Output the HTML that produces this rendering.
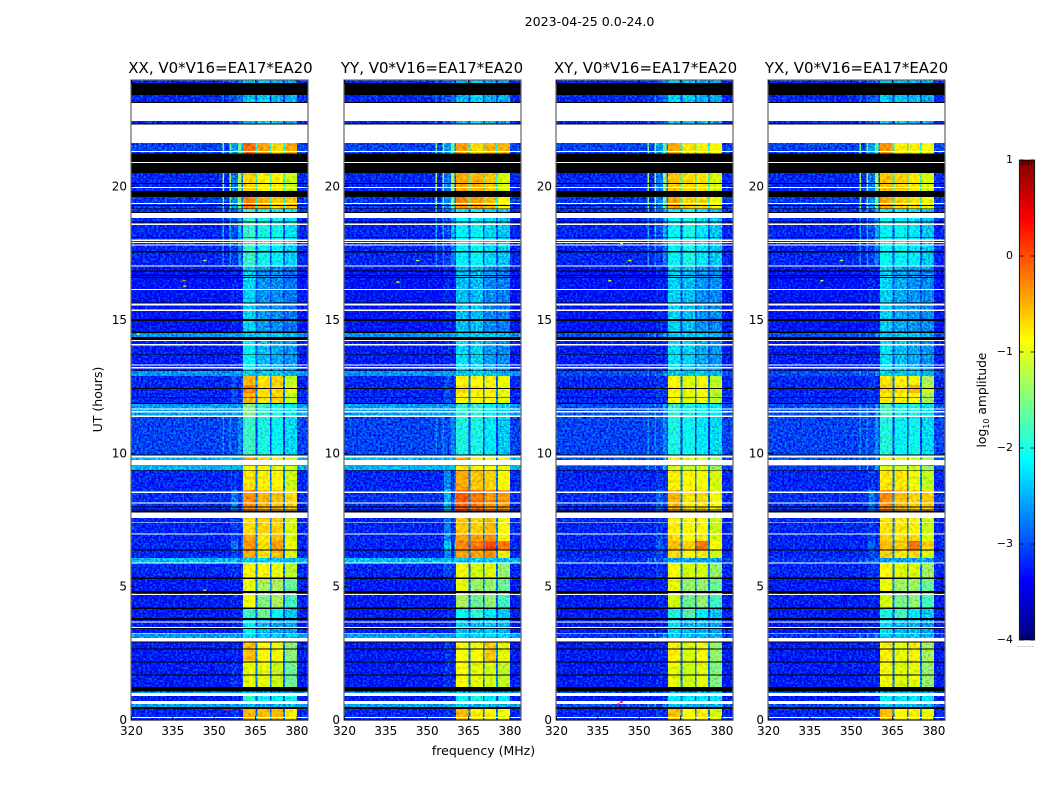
<!DOCTYPE html>
<html lang="en">
<head>
<meta charset="utf-8">
<title>2023-04-25 0.0-24.0</title>
<style>
html,body{margin:0;padding:0;background:#fff;}
svg{display:block;}
text{font-family:"DejaVu Sans","Liberation Sans",sans-serif;fill:#000;}
</style>
</head>
<body>
<svg id="figure" xmlns="http://www.w3.org/2000/svg" width="1050" height="800" viewBox="0 0 1050 800">
  <defs>
    <filter id="grainQuiet0" filterUnits="userSpaceOnUse" x="0" y="0" width="1050" height="800" color-interpolation-filters="sRGB"><feTurbulence type="fractalNoise" baseFrequency="0.46" numOctaves="2" seed="3" result="n"/><feColorMatrix in="n" type="matrix" values="0 0 0 0 0.5  2.6 0 0 0 -0.8  0 2.2 0 0 -0.6  0 0 0 0 1" result="c"/><feComposite in="SourceGraphic" in2="c" operator="arithmetic" k1="0" k2="1" k3="0.5" k4="-0.25" result="m"/><feComposite in="m" in2="SourceAlpha" operator="in"/></filter>
    <filter id="grainBright0" filterUnits="userSpaceOnUse" x="0" y="0" width="1050" height="800" color-interpolation-filters="sRGB"><feTurbulence type="fractalNoise" baseFrequency="0.3" numOctaves="2" seed="11" result="n"/><feColorMatrix in="n" type="matrix" values="1.4 0 0 0 -0.2  1.6 0 0 0 -0.3  0 0 0 0 0  0 0 0 0 1" result="c"/><feComposite in="SourceGraphic" in2="c" operator="arithmetic" k1="0" k2="1" k3="0.3" k4="-0.15" result="m"/><feComposite in="m" in2="SourceAlpha" operator="in"/></filter>
  </defs>
  <text x="589.5" y="26" font-size="12.6" text-anchor="middle">2023-04-25 0.0-24.0</text>
  <g id="panels"></g>
  <text x="483.5" y="755" font-size="12.5" text-anchor="middle">frequency (MHz)</text>
  <text transform="translate(102,399.5) rotate(-90)" font-size="12.5" text-anchor="middle">UT (hours)</text>
  <g id="colorbar"></g>
  <text transform="translate(986,400) rotate(-90)" font-size="12.3" text-anchor="middle">log<tspan font-size="8" dy="3">10</tspan><tspan dy="-3"> amplitude</tspan></text>
</svg>
<script>
// ---- axis data ----
const panelNames = ['XX', 'YY', 'XY', 'YX'];
const baselineLabel = ', V0*V16=EA17*EA20';
const freqTicks = [320, 335, 350, 365, 380];
const hourTicks = [0, 5, 10, 15, 20];
const freqRange = [320, 384];
const hourRange = [0, 24];
const colorRange = [-4, 1];
const colorTicks = [1, 0, -1, -2, -3, -4];
const colorTickLabels = ['1', '0', '\u22121', '\u22122', '\u22123', '\u22124'];

// ---- spectral bands (MHz edges) and what each band holds ----
const freqEdges = [320, 353, 353.6, 355.6, 356, 358.7, 359.9, 360.5, 365, 365.65, 370.2, 370.85, 375, 375.65, 380, 384];
const bandRoles = ['bg', 'line', 'bg', 'line', 'sh', 'line', 'sh', 'b1', 'gap', 'b2', 'gap', 'b3', 'gap', 'b4', 'bg'];

// ---- time rows: [top hour, state]; W flagged white, K blank black, otherwise a zone code ----
const timeRows = [[24,'A'],[23.89,'K'],[23.44,'A'],[23.18,'K'],[23.14,'W'],[22.46,'A'],[22.37,'K'],[22.33,'W'],[21.64,'B'],[21.34,'W'],[21.30,'B'],[21.24,'K'],[20.93,'W'],[20.89,'K'],[20.51,'C'],[20.13,'K'],[20.10,'C'],[19.99,'W'],[19.95,'C'],[19.84,'K'],[19.61,'D'],[19.39,'W'],[19.35,'D'],[19.31,'K'],[19.28,'D'],[19.18,'K'],[19.16,'E'],[19.05,'K'],[19.02,'W'],[18.83,'E'],[18.69,'K'],[18.66,'E'],[18.61,'W'],[18.57,'E'],[18.12,'K'],[18.09,'E'],[18.01,'W'],[17.96,'E'],[17.93,'W'],[17.89,'E'],[17.83,'W'],[17.79,'F'],[17.58,'K'],[17.54,'F'],[17.05,'W'],[17.00,'G'],[16.85,'K'],[16.81,'G'],[16.69,'K'],[16.65,'G'],[16.61,'K'],[16.58,'G'],[16.17,'W'],[16.13,'G'],[15.65,'K'],[15.61,'W'],[15.55,'G'],[15.39,'W'],[15.34,'G'],[15.03,'K'],[14.97,'G'],[14.56,'K'],[14.52,'I'],[14.36,'K'],[14.25,'W'],[14.21,'H'],[14.10,'W'],[14.05,'H'],[13.71,'K'],[13.68,'H'],[13.34,'W'],[13.29,'H'],[13.24,'W'],[13.19,'H'],[13.11,'K'],[13.08,'I'],[12.90,'J'],[12.56,'J2'],[12.45,'K'],[12.41,'J2'],[12.26,'J'],[12.12,'K'],[12.09,'J'],[11.89,'K'],[11.85,'K2'],[11.69,'W'],[11.65,'K2'],[11.58,'W'],[11.54,'K2'],[11.41,'W'],[11.37,'L'],[9.96,'K'],[9.91,'W'],[9.84,'M'],[9.75,'W'],[9.55,'K'],[9.53,'N'],[9.38,'K'],[9.35,'O'],[8.63,'P'],[8.56,'W'],[8.52,'P'],[8.15,'W'],[8.11,'P'],[8.00,'K'],[7.96,'P'],[7.90,'K'],[7.86,'P'],[7.83,'K'],[7.79,'W'],[7.58,'Q'],[7.41,'W'],[7.38,'Q'],[7.00,'W'],[6.96,'R'],[6.71,'R2'],[6.40,'K'],[6.36,'R'],[6.08,'S'],[5.90,'W'],[5.86,'T'],[5.34,'K'],[5.28,'U'],[4.83,'K'],[4.77,'U'],[4.73,'W'],[4.69,'V'],[4.21,'K'],[4.17,'W2'],[3.83,'K'],[3.75,'X'],[3.69,'W'],[3.65,'X'],[3.49,'W'],[3.45,'K'],[3.41,'X'],[3.27,'W'],[3.24,'Y'],[3.08,'W'],[2.94,'K'],[2.91,'Z'],[2.69,'K'],[2.65,'Z'],[2.20,'K'],[2.16,'AA'],[1.71,'K'],[1.67,'AA'],[1.24,'K'],[1.06,'AC'],[1.02,'W'],[0.90,'AB'],[0.71,'W'],[0.60,'AC'],[0.48,'K'],[0.42,'AD'],[0.11,'W'],[0.08,'AD']];

// ---- zone levels, log10 amplitude ----
const zoneCodes = ['A','B','C','D','E','F','G','H','I','J','J2','K2','L','M','N','O','P','Q','R','R2','S','T','U','V','W2','X','Y','Z','AA','AB','AC','AD'];
const zoneLine = [-2.8,-1.6,-1.3,-1.5,-2.5,-2.7,-3.3,-3.25,-2.6,-3.2,-3.2,-2.6,-2.7,-2.5,-2.5,-3.2,-3.15,-3.2,-3.2,-3.2,-2.6,-3.2,-3.25,-3.25,-3.25,-3.25,-2.6,-3.25,-3.25,-3.25,-2.6,-3.2];
const zoneGap = [-3.1,-1.9,-1.8,-1.9,-3.0,-3.0,-3.0,-3.0,-2.6,-2.8,-2.8,-2.7,-3.1,-2.6,-2.6,-2.8,-2.8,-2.8,-2.8,-2.8,-2.6,-2.8,-2.8,-2.9,-3.0,-3.0,-2.7,-2.8,-2.8,-3.0,-2.7,-2.8];
// each zone: background, shoulder, then the four bright blocks
const levelsXX = [[-3.2,-3.0,-2.45,-2.35,-2.5,-2.5],[-3.05,-2.6,-0.15,-0.4,-0.7,-0.45],[-3.2,-2.8,-0.65,-0.8,-0.8,-1.15],[-3.1,-2.7,-0.25,-0.5,-0.65,-0.6],[-3.2,-3.0,-1.85,-2.0,-2.05,-2.25],[-3.2,-3.1,-1.85,-2.05,-2.15,-2.35],[-3.3,-3.2,-2.35,-2.65,-2.7,-2.8],[-3.25,-3.2,-2.15,-2.45,-2.55,-2.65],[-2.65,-2.6,-2.4,-2.4,-2.4,-2.5],[-3.2,-3.0,-0.5,-0.75,-0.65,-1.2],[-3.2,-3.0,-0.25,-0.7,-0.7,-1.0],[-2.6,-2.6,-1.5,-1.9,-2.0,-2.2],[-3.05,-3.0,-1.85,-2.0,-2.1,-2.3],[-2.5,-2.5,-0.35,-0.7,-0.8,-1.0],[-2.5,-2.5,-0.9,-0.9,-1.0,-1.2],[-3.2,-3.1,-0.75,-0.8,-0.85,-1.15],[-3.15,-2.8,-0.3,-0.5,-0.55,-0.7],[-3.2,-3.1,-0.7,-0.65,-0.65,-1.1],[-3.2,-3.0,-0.45,-0.75,-0.55,-1.05],[-3.2,-2.8,-0.35,-0.7,-0.4,-1.0],[-2.45,-2.45,-2.4,-2.4,-2.4,-2.45],[-3.2,-3.1,-0.85,-0.85,-1.0,-1.25],[-3.25,-3.2,-1.0,-1.3,-1.3,-1.6],[-3.25,-3.2,-0.95,-1.5,-1.3,-1.8],[-3.25,-3.2,-1.85,-1.6,-2.1,-2.4],[-3.25,-3.2,-2.2,-2.5,-2.6,-2.6],[-2.6,-2.6,-2.3,-2.4,-2.4,-2.4],[-3.25,-3.2,-0.55,-0.85,-0.95,-1.45],[-3.25,-3.1,-1.0,-1.0,-1.15,-1.6],[-3.25,-3.2,-1.9,-2.05,-2.1,-2.05],[-2.6,-2.6,-2.4,-2.5,-2.5,-2.5],[-3.2,-3.1,-0.5,-0.55,-0.55,-0.8]];
const levelsYY = [[-3.2,-3.0,-2.5,-2.35,-2.5,-2.55],[-3.05,-2.6,-0.4,-0.7,-0.5,-0.5],[-3.2,-2.8,-0.45,-0.5,-0.6,-1.1],[-3.1,-2.7,-0.3,-0.4,-0.55,-0.9],[-3.2,-3.0,-2.15,-2.1,-2.3,-2.4],[-3.2,-3.1,-2.15,-2.1,-2.3,-2.4],[-3.3,-3.2,-2.45,-2.45,-2.7,-2.75],[-3.25,-3.2,-2.3,-2.35,-2.6,-2.7],[-2.65,-2.6,-2.4,-2.4,-2.4,-2.5],[-3.2,-3.0,-0.85,-0.85,-0.8,-1.0],[-3.2,-3.0,-0.7,-0.8,-0.8,-1.0],[-2.6,-2.6,-1.9,-1.9,-2.1,-2.3],[-3.05,-3.0,-2.0,-2.0,-2.2,-2.4],[-2.5,-2.5,-0.4,-0.8,-0.9,-1.0],[-2.5,-2.5,-0.8,-0.9,-0.9,-1.0],[-3.2,-2.7,-0.45,-0.6,-0.65,-0.9],[-3.15,-2.5,-0.05,-0.2,-0.35,-0.35],[-3.2,-2.8,-0.6,-0.65,-0.55,-0.95],[-3.2,-2.7,-0.4,-0.4,-0.3,-0.8],[-3.2,-2.4,-0.25,-0.2,0.0,-0.2],[-2.45,-2.45,-2.4,-2.4,-2.4,-2.45],[-3.2,-3.0,-0.95,-1.1,-1.05,-1.4],[-3.25,-3.2,-1.0,-1.4,-1.4,-1.6],[-3.25,-3.2,-1.3,-1.6,-1.4,-1.8],[-3.25,-3.2,-2.1,-1.9,-2.2,-2.4],[-3.25,-3.2,-2.4,-2.5,-2.4,-2.5],[-2.6,-2.6,-2.3,-2.3,-2.3,-2.3],[-3.25,-3.1,-0.9,-0.9,-0.6,-1.0],[-3.25,-3.1,-0.9,-1.0,-1.1,-1.2],[-3.25,-3.2,-2.1,-2.0,-2.2,-2.2],[-2.6,-2.6,-2.4,-2.5,-2.5,-2.5],[-3.2,-3.1,-0.5,-0.8,-0.8,-0.95]];
const levelsXY = [[-3.2,-3.0,-2.35,-2.4,-2.5,-2.55],[-3.05,-2.6,-0.45,-0.75,-0.8,-0.9],[-3.2,-2.8,-0.6,-0.7,-0.75,-1.1],[-3.1,-2.7,-0.45,-0.65,-0.7,-0.95],[-3.2,-3.0,-2.1,-2.0,-2.2,-2.4],[-3.2,-3.1,-2.1,-2.0,-2.2,-2.4],[-3.3,-3.2,-2.35,-2.45,-2.65,-2.7],[-3.25,-3.2,-2.25,-2.35,-2.55,-2.65],[-3.0,-3.0,-2.4,-2.4,-2.4,-2.5],[-3.2,-3.1,-0.85,-1.05,-0.9,-1.25],[-3.2,-3.1,-0.8,-1.0,-0.95,-1.2],[-3.0,-3.0,-1.9,-2.0,-2.1,-2.2],[-3.05,-3.0,-2.0,-2.05,-2.2,-2.3],[-3.0,-3.0,-0.8,-1.0,-1.0,-1.3],[-3.1,-3.1,-1.1,-1.2,-1.1,-1.4],[-3.2,-3.1,-0.8,-0.85,-0.9,-1.1],[-3.15,-2.9,-0.5,-0.75,-0.7,-0.95],[-3.2,-3.1,-0.8,-0.85,-0.85,-1.15],[-3.2,-3.0,-0.7,-0.85,-0.75,-1.1],[-3.2,-2.9,-0.55,-0.65,-0.2,-0.9],[-3.1,-3.0,-2.6,-2.6,-2.6,-2.6],[-3.2,-3.1,-0.9,-1.1,-1.1,-1.4],[-3.25,-3.2,-1.0,-1.4,-1.4,-1.6],[-3.25,-3.2,-1.1,-1.6,-1.4,-1.8],[-3.25,-3.2,-2.0,-1.7,-2.2,-2.4],[-3.25,-3.2,-2.3,-2.5,-2.5,-2.6],[-3.1,-3.0,-2.4,-2.4,-2.4,-2.5],[-3.25,-3.2,-0.8,-1.1,-0.85,-1.4],[-3.25,-3.2,-1.0,-1.15,-1.0,-1.5],[-3.25,-3.2,-2.1,-2.2,-2.2,-2.2],[-3.0,-3.0,-2.5,-2.5,-2.5,-2.5],[-3.2,-3.1,-0.55,-0.9,-0.8,-1.1]];
const levelsYX = [[-3.2,-3.0,-2.4,-2.4,-2.45,-2.55],[-3.05,-2.6,-0.35,-0.8,-0.8,-0.9],[-3.2,-2.8,-0.55,-0.65,-0.75,-1.1],[-3.1,-2.7,-0.45,-0.65,-0.7,-0.95],[-3.2,-3.0,-2.1,-2.1,-2.2,-2.4],[-3.2,-3.1,-2.1,-2.1,-2.2,-2.4],[-3.3,-3.2,-2.35,-2.55,-2.65,-2.7],[-3.25,-3.2,-2.25,-2.45,-2.55,-2.65],[-3.0,-3.0,-2.4,-2.4,-2.4,-2.5],[-3.2,-3.1,-0.75,-0.8,-0.85,-1.3],[-3.2,-3.1,-0.65,-0.7,-0.5,-1.2],[-3.0,-3.0,-1.8,-2.0,-2.0,-2.2],[-3.05,-3.0,-1.95,-2.1,-2.05,-2.3],[-3.0,-3.0,-0.85,-1.0,-0.95,-1.3],[-3.1,-3.1,-1.05,-1.15,-1.1,-1.4],[-3.2,-3.1,-0.75,-0.75,-0.95,-1.2],[-3.15,-2.8,-0.3,-0.55,-0.65,-0.6],[-3.2,-3.1,-0.75,-0.75,-0.8,-1.15],[-3.2,-3.0,-0.65,-0.75,-0.7,-1.1],[-3.2,-2.9,-0.55,-0.6,-0.15,-0.6],[-3.1,-3.0,-2.6,-2.6,-2.6,-2.6],[-3.2,-3.1,-0.85,-1.05,-1.05,-1.35],[-3.25,-3.2,-1.0,-1.35,-1.35,-1.6],[-3.25,-3.2,-1.1,-1.55,-1.4,-1.8],[-3.25,-3.2,-2.0,-1.8,-2.2,-2.4],[-3.25,-3.2,-2.3,-2.5,-2.5,-2.6],[-3.1,-3.0,-2.4,-2.4,-2.4,-2.5],[-3.25,-3.2,-0.8,-1.0,-0.8,-1.3],[-3.25,-3.2,-0.95,-1.05,-1.0,-1.4],[-3.25,-3.2,-2.1,-2.2,-2.2,-2.2],[-3.0,-3.0,-2.5,-2.5,-2.5,-2.5],[-3.2,-3.1,-0.55,-0.85,-0.8,-1.0]];

// ---- isolated interference spikes: panel, MHz, hour, level ----
const spikePanels = [0,0,0,0,1,1,2,2,2,3,3,2,2,0,0];
const spikeFreqs = [338.5,338.8,346,322,338.8,346,338.8,346,342,338.8,346,343,343,346,354];
const spikeHours = [16.5,16.3,17.26,14.5,16.45,17.26,16.5,17.26,0.62,16.5,17.26,17.9,0.7,4.9,0.4];
const spikeLevels = [-0.3,-0.7,-0.8,-1.2,-1.0,-1.1,-1.0,-0.8,0.4,-1.0,-1.1,-0.9,0.4,-0.6,0.3];

const panelLevels = [levelsXX, levelsYY, levelsXY, levelsYX];
const panelLeft = [131.5, 344.5, 556.5, 768.5];
const panelTitleX = [220.5, 432, 645.5, 856.5];
const plotWidth = 176.5;
const plotTop = 80;
const plotBottom = 720;
const SVGNS = 'http://www.w3.org/2000/svg';
const roleIndex = { bg: 0, sh: 1, b1: 2, b2: 3, b3: 4, b4: 5 };

function jet(value) {
  const t = Math.max(0, Math.min(1, (value - colorRange[0]) / (colorRange[1] - colorRange[0])));
  const r = Math.max(0, Math.min(1, Math.min(4 * t - 1.5, -4 * t + 4.5)));
  const g = Math.max(0, Math.min(1, Math.min(4 * t - 0.5, -4 * t + 3.5)));
  const b = Math.max(0, Math.min(1, Math.min(4 * t + 0.5, -4 * t + 2.5)));
  return 'rgb(' + Math.round(r * 255) + ',' + Math.round(g * 255) + ',' + Math.round(b * 255) + ')';
}
function make(tag, attrs, parent) {
  const el = document.createElementNS(SVGNS, tag);
  for (const k in attrs) el.setAttribute(k, attrs[k]);
  parent.appendChild(el);
  return el;
}
function xScale(panel, mhz) {
  return panelLeft[panel] + (mhz - freqRange[0]) / (freqRange[1] - freqRange[0]) * plotWidth;
}
function yScale(hour) {
  return plotBottom - (hour - hourRange[0]) / (hourRange[1] - hourRange[0]) * (plotBottom - plotTop);
}
function colorScale(value) {
  return 640 - (value - colorRange[0]) / (colorRange[1] - colorRange[0]) * 480;
}
function levelFor(panel, zone, role) {
  if (role === 'line') return zoneLine[zone];
  if (role === 'gap') return zoneGap[zone];
  return panelLevels[panel][zone][roleIndex[role]];
}

const panelsRoot = document.getElementById('panels');
panelNames.forEach(function (name, p) {
  const g = make('g', {}, panelsRoot);
  
  

  const title = make('text', { x: panelTitleX[p], y: 73, 'font-size': 15, 'text-anchor': 'middle' }, g);
  title.textContent = name + baselineLabel;
  
  

  const quiet = make('g', { filter: 'url(#grainQuiet0)', 'shape-rendering': 'crispEdges' }, g);
  
  
  const bright = make('g', { filter: 'url(#grainBright0)', 'shape-rendering': 'crispEdges' }, g);
  
  
  const flags = make('g', { 'shape-rendering': 'crispEdges' }, g);
  
  

  timeRows.forEach(function (rowEntry, r) {
    const state = rowEntry[1];
    const top = yScale(rowEntry[0]);
    const bottomHour = r + 1 < timeRows.length ? timeRows[r + 1][0] : hourRange[0];
    const bottom = yScale(bottomHour);
    const h = bottom - top;
    if (state === 'W' || state === 'K') {
      const row = make('rect', { x: xScale(p, freqRange[0]), y: top, width: plotWidth, height: h, fill: state === 'W' ? '#fff' : '#000' }, flags);
      
      
      return;
    }
    const zone = zoneCodes.indexOf(state);
    bandRoles.forEach(function (role, b) {
      const value = levelFor(p, zone, role);
      const x0 = xScale(p, freqEdges[b]);
      const x1 = xScale(p, freqEdges[b + 1]);
      const cell = make('rect', { x: x0, y: top, width: x1 - x0, height: h, fill: jet(value) }, value < -1.25 ? quiet : bright);
      
      
    });
  });

  spikePanels.forEach(function (sp, i) {
    if (sp !== p) return;
    const spike = make('rect', { x: xScale(p, spikeFreqs[i]), y: yScale(spikeHours[i]), width: 3, height: 1.5, fill: jet(spikeLevels[i]) }, g);
    
    
  });

  // axes frame
  const xL = panelLeft[p] - 0.5, xR = xL + plotWidth + 0.5;
  const frame = make('rect', { x: xL, y: plotTop, width: xR - xL, height: plotBottom - plotTop, fill: 'none', stroke: '#666', 'stroke-width': 1.2 }, g);
  
  
  const base = make('line', { x1: xL, x2: xR, y1: plotBottom, y2: plotBottom, stroke: '#000', 'stroke-width': 1 }, g);
  
  

  freqTicks.forEach(function (f) {
    const x = xScale(p, f);
    const tick = make('path', { d: 'M' + x + ' ' + plotBottom + 'v-4M' + x + ' ' + plotTop + 'v4', stroke: '#000', 'stroke-width': 0.8, fill: 'none' }, g);
    
    
    const label = make('text', { x: x, y: 735, 'font-size': 12, 'text-anchor': 'middle' }, g);
    label.textContent = f;
    
    
  });
  hourTicks.forEach(function (t) {
    const y = yScale(t);
    const tick = make('path', { d: 'M' + xL + ' ' + y + 'h4M' + xR + ' ' + y + 'h-4', stroke: '#000', 'stroke-width': 0.8, fill: 'none' }, g);
    
    
    const label = make('text', { x: xL - 4, y: y + 4, 'font-size': 12, 'text-anchor': 'end' }, g);
    label.textContent = t;
    
    
  });
});

// colour bar
const cbRoot = document.getElementById('colorbar');
const cbLeft = 1019.5, cbWidth = 15;
const ramp = make('g', { 'shape-rendering': 'crispEdges' }, cbRoot);


for (let s = 0; s < 240; s++) {
  const v = colorRange[0] + (s + 0.5) / 240 * (colorRange[1] - colorRange[0]);
  const slice = make('rect', { x: cbLeft, y: colorScale(v) - 1, width: cbWidth, height: 2.2, fill: jet(v) }, ramp);
  
  
}
const cbFrame = make('rect', { x: cbLeft, y: 160, width: cbWidth, height: 480, fill: 'none', stroke: '#000', 'stroke-width': 1 }, cbRoot);


const cbHalo = make('rect', { x: cbLeft - 0.6, y: 159.6, width: cbWidth + 1.2, height: 480.8, fill: 'none', stroke: '#bbb', 'stroke-width': 0.5 }, cbRoot);


colorTicks.forEach(function (v, i) {
  const y = colorScale(v);
  const tick = make('path', { d: 'M' + cbLeft + ' ' + y + 'h4M' + (cbLeft + cbWidth) + ' ' + y + 'h-4', stroke: '#000', 'stroke-width': 0.8, fill: 'none' }, cbRoot);
  
  
  const label = make('text', { x: 1013, y: y + 3, 'font-size': 11, 'text-anchor': 'end' }, cbRoot);
  label.textContent = colorTickLabels[i];
  
  
});
const cbEnds = make('path', { d: 'M1022.5 160v5M1025.5 160v5M1028.5 160v5M1031.5 160v5M1022.5 640v-5M1025.5 640v-5M1028.5 640v-5M1031.5 640v-5', stroke: '#000', 'stroke-width': 0.7, fill: 'none' }, cbRoot);


const cbDots = make('line', { x1: 1017.5, x2: 1035, y1: 646.5, y2: 646.5, stroke: '#999', 'stroke-width': 1, 'stroke-dasharray': '1 2' }, cbRoot);


</script>
</body>
</html>
